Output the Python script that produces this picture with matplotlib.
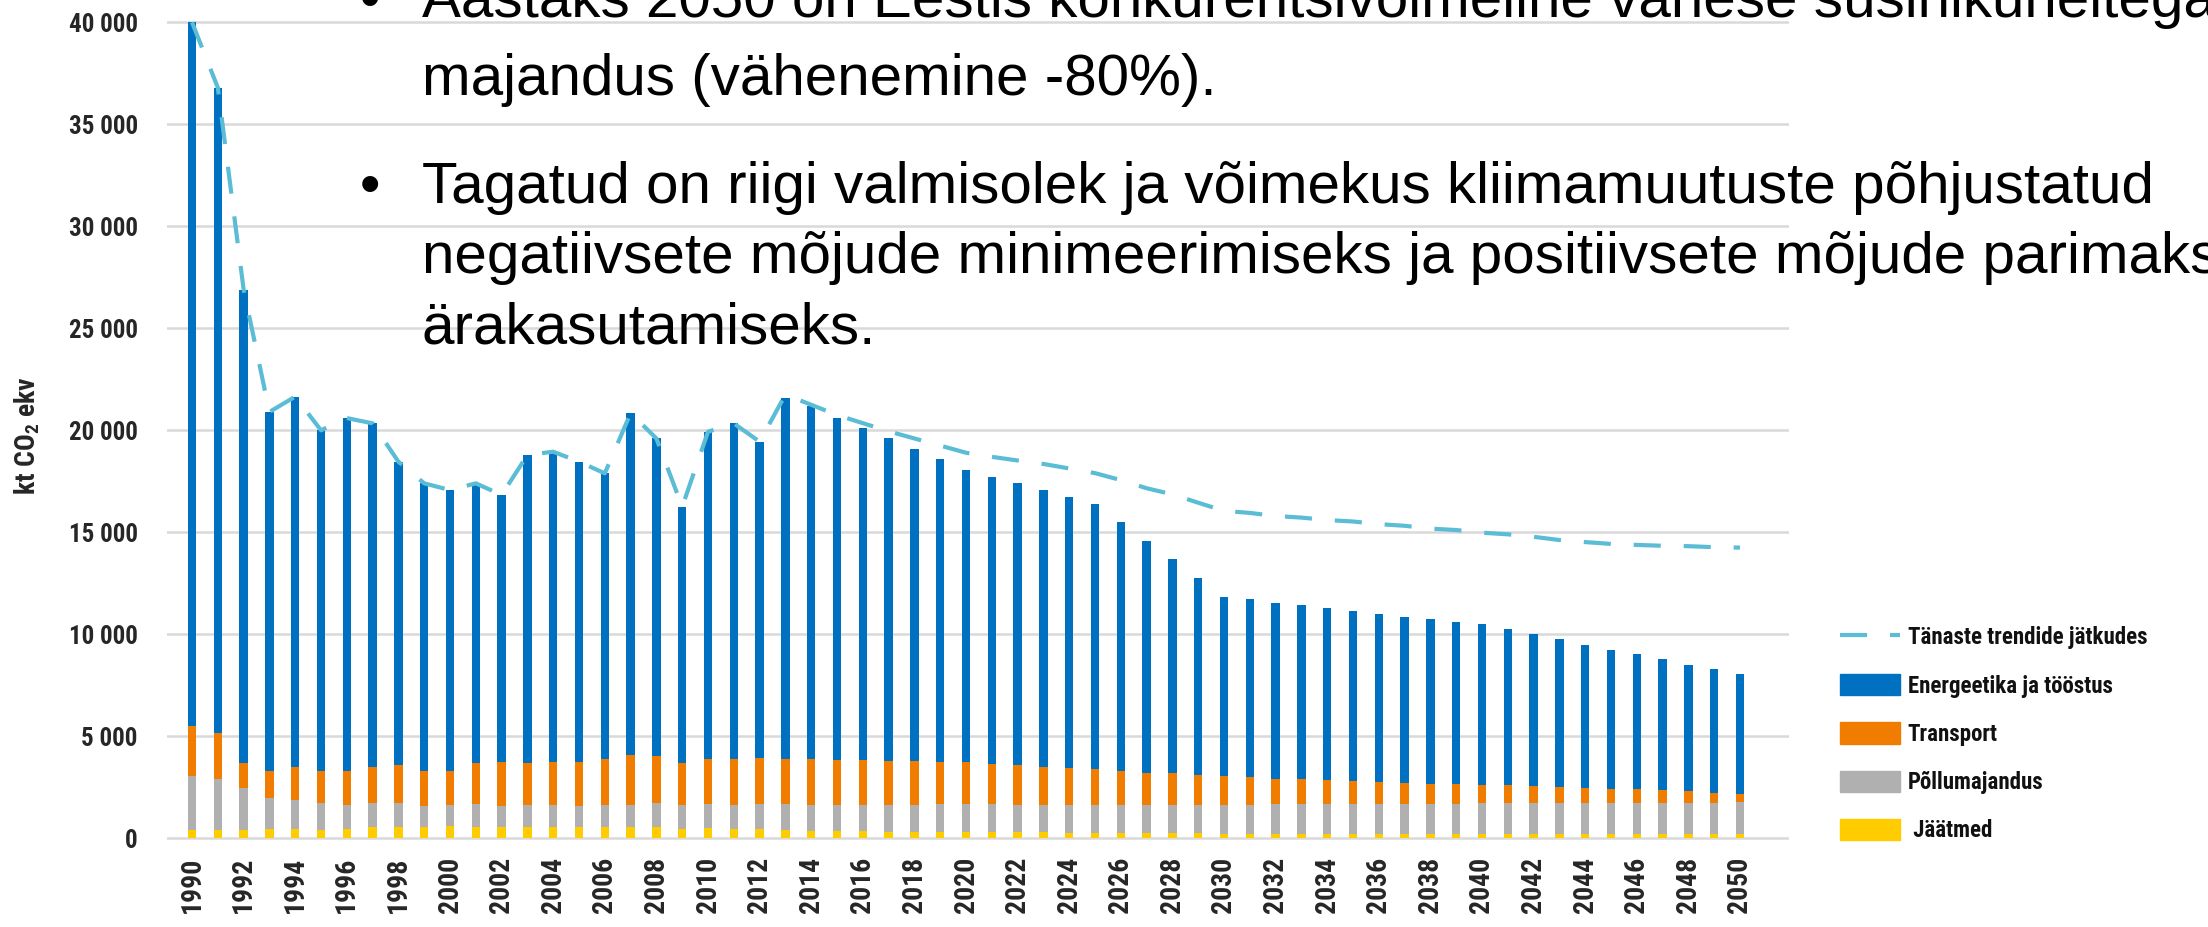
import matplotlib.pyplot as plt
from matplotlib.lines import Line2D
from matplotlib.patches import Patch
import numpy as np

# --- DATA (kt CO2 ekv) ---
years = list(range(1990, 2051))

jaatmed = [410, 410, 410, 460, 460, 410, 460, 560, 560, 560,
           620, 570, 570, 570, 570, 560, 560, 560, 560, 470,
           490, 440, 440, 410, 380, 380, 380, 330, 330, 330,
           330, 290, 290, 290, 280, 250, 250, 250, 250, 250,
           210, 210, 210, 210, 210, 210, 210, 210, 210, 210,
           210, 210, 210, 210, 210, 210, 210, 210, 210, 210,
           210]

pollumajandus = [2650, 2500, 2070, 1520, 1440, 1310, 1160, 1160, 1190, 1030,
                 1010, 1110, 1020, 1060, 1060, 1030, 1070, 1070, 1160, 1150,
                 1210, 1190, 1240, 1270, 1250, 1250, 1250, 1300, 1300, 1350,
                 1350, 1390, 1340, 1340, 1350, 1380, 1380, 1380, 1380, 1380,
                 1420, 1420, 1460, 1460, 1460, 1460, 1460, 1460, 1460, 1470,
                 1510, 1510, 1510, 1510, 1510, 1540, 1540, 1540, 1540, 1540,
                 1570]

transport = [2460, 2240, 1200, 1320, 1580, 1560, 1660, 1760, 1830, 1690,
             1690, 2000, 2150, 2050, 2110, 2150, 2270, 2440, 2320, 2090,
             2200, 2240, 2270, 2220, 2240, 2190, 2190, 2160, 2160, 2050,
             2050, 1980, 1950, 1870, 1820, 1750, 1690, 1590, 1560, 1480,
             1440, 1390, 1260, 1220, 1190, 1140, 1090, 1060, 1010, 970,
             900, 870, 830, 800, 760, 690, 650, 600, 550, 490,
             390]

energeetika = [34480, 31650, 23220, 17600, 18170, 16720, 17320, 16860, 14880, 14120,
               13750, 13720, 13090, 15110, 15210, 14720, 13990, 16770, 15560, 12540,
               16030, 16470, 15490, 17670, 17320, 16770, 16280, 15820, 15290, 14850,
               14320, 14070, 13820, 13570, 13260, 12990, 12170, 11350, 10480, 9670,
               8770, 8710, 8620, 8550, 8410, 8320, 8240, 8130, 8070, 7970,
               7880, 7650, 7450, 7230, 7000, 6790, 6620, 6420, 6200, 6060,
               5880]

trend = [40000, 36800, 26900, 20900, 21650, 20000, 20600, 20340, 18460, 17400,
         17070, 17400, 16830, 18790, 18950, 18460, 17890, 20840, 19600, 16250,
         19930, 20340, 19440, 21750, 21250, 20750, 20350, 19950, 19600, 19250,
         18900, 18700, 18520, 18350, 18130, 17900, 17560, 17160, 16860, 16450,
         16050, 15950, 15800, 15720, 15600, 15530, 15400, 15320, 15180, 15110,
         14980, 14900, 14780, 14620, 14520, 14430, 14380, 14340, 14320, 14270,
         14250]

y_ticks = [0, 5000, 10000, 15000, 20000, 25000, 30000, 35000, 40000]
y_tick_labels = ['0', '5 000', '10 000', '15 000', '20 000', '25 000', '30 000', '35 000', '40 000']

series_names = [' Jäätmed', 'Põllumajandus', 'Transport', 'Energeetika ja tööstus']
trend_name = 'Tänaste trendide jätkudes'

bullet_lines = [
    ('•', 'Aastaks 2050 on Eestis konkurentsivõimeline vähese süsinikuheitega'),
    ('', 'majandus (vähenemine -80%).'),
    ('•', 'Tagatud on riigi valmisolek ja võimekus kliimamuutuste põhjustatud'),
    ('', 'negatiivsete mõjude minimeerimiseks ja positiivsete mõjude parimaks'),
    ('', 'ärakasutamiseks.'),
]

# --- STYLE ---
plt.rcParams['font.family'] = ['Roboto Condensed', 'Roboto', 'DejaVu Sans']
plt.rcParams['font.weight'] = 'bold'
plt.rcParams['mathtext.fontset'] = 'custom'
plt.rcParams['mathtext.bf'] = 'Roboto Condensed:bold'
plt.rcParams['mathtext.rm'] = 'Roboto Condensed:bold'
plt.rcParams['mathtext.default'] = 'bf'

BLUE = '#0070C0'
ORANGE = '#F07D00'
GREY = '#B0B0B0'
YELLOW = '#FFCC00'
TREND = '#5BBCD6'
TEXT = '#262626'

W, H = 2208, 927
fig = plt.figure(figsize=(W / 100, H / 100), dpi=100)
ax = fig.add_axes([167 / W, 1 - 844.4 / H, (1789 - 167) / W, (844.4 - 16.2) / H])

# stacked bars, bottom to top
x = np.array(years)
stack = [jaatmed, pollumajandus, transport, energeetika]
colors = [YELLOW, GREY, ORANGE, BLUE]
bottom = np.zeros(len(years))
for vals, col in zip(stack, colors):
    ax.bar(x, vals, width=0.32, bottom=bottom, color=col, zorder=2)
    bottom += np.array(vals)

ax.plot(x, trend, color=TREND, lw=3.0, dashes=(6.5, 5.5), zorder=3, clip_on=False)

ax.set_xlim(1989.03, 2051.9)
ax.set_ylim(-300, 40300)

ax.set_yticks(y_ticks)
ax.set_yticklabels(y_tick_labels)
ax.set_xticks(years[::2])
ax.set_xticklabels([str(y) for y in years[::2]], rotation=90)
ax.tick_params(axis='y', length=0, pad=21, labelsize=18, labelcolor=TEXT)
ax.tick_params(axis='x', length=0, pad=9, labelsize=20, labelcolor=TEXT)

ax.grid(axis='y', color='#D9D9D9', lw=1.8)
ax.set_axisbelow(True)
for s in ax.spines.values():
    s.set_visible(False)

fig.text(27 / W, 1 - 436 / H, 'kt CO$_2$ ekv', rotation=90, ha='center', va='center',
         fontsize=20, color=TEXT)

# legend
handles = [Line2D([0], [0], color=TREND, lw=3.0, dashes=(6.5, 5.5)),
           Patch(color=BLUE), Patch(color=ORANGE), Patch(color=GREY), Patch(color=YELLOW)]
labels = [trend_name, series_names[3], series_names[2], series_names[1], series_names[0]]
fig.legend(handles, labels, loc='upper left', bbox_to_anchor=(1840 / W, 1 - 626 / H),
           frameon=False, fontsize=16.5, handlelength=2.6, handleheight=1.05,
           handletextpad=0.35, labelspacing=1.08, borderpad=0, borderaxespad=0,
           labelcolor='#111111')

# bullet text overlay
baselines = [17, 95, 203, 273, 343]
for (bul, line), yb in zip(bullet_lines, baselines):
    if bul:
        fig.text(370 / W, 1 - yb / H, bul, ha='center', va='baseline', fontsize=42,
                 family='Liberation Sans', fontweight='normal', color='black', zorder=10)
    fig.text(422 / W, 1 - yb / H, line, ha='left', va='baseline', fontsize=42,
             family='Liberation Sans', fontweight='normal', color='black', zorder=10)

fig.savefig('out.png', dpi=100, facecolor='white')
